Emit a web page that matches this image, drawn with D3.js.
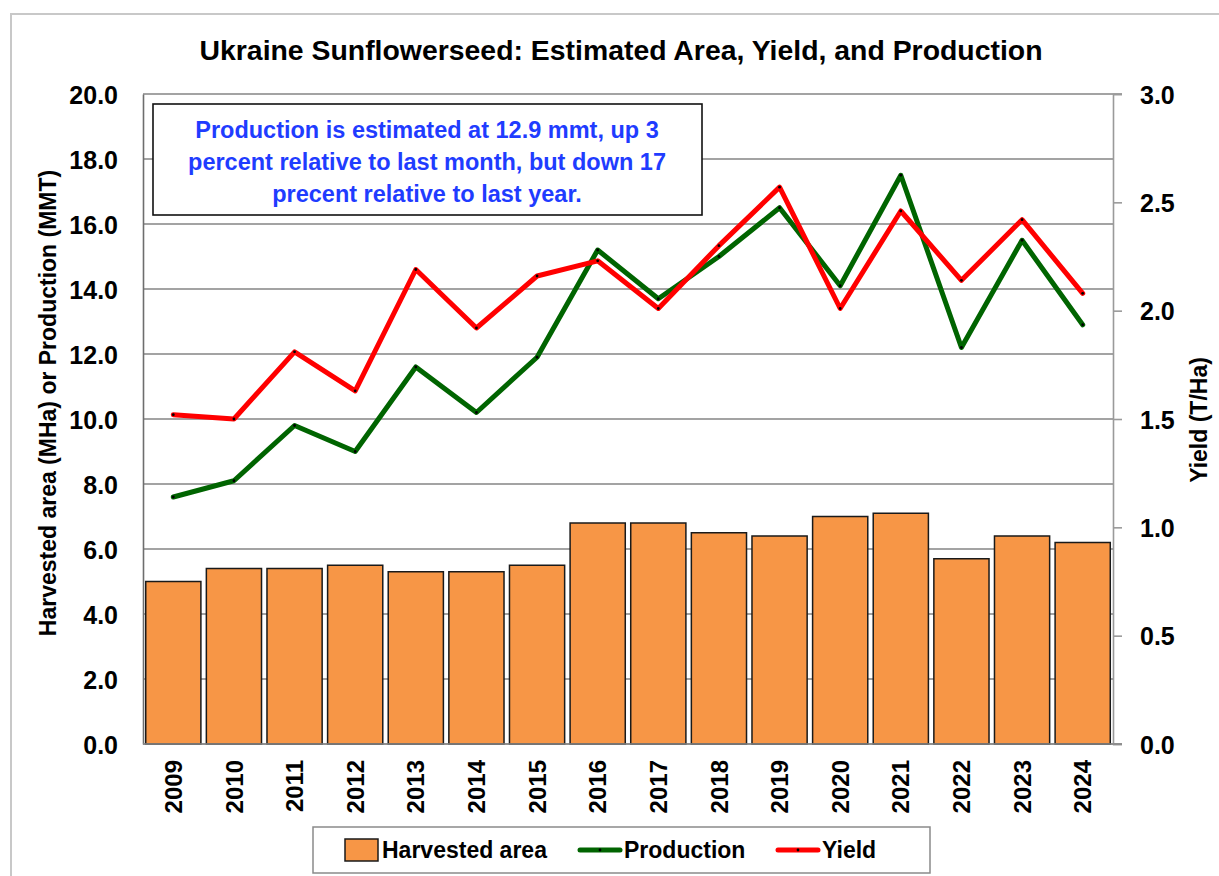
<!DOCTYPE html>
<html>
<head>
<meta charset="utf-8">
<script src="https://cdn.jsdelivr.net/npm/d3@7"></script>
<style>
  body { margin: 0; background: #fff; }
  svg text { font-family: "Liberation Sans", Arial, sans-serif; font-weight: bold; }
</style>
</head>
<body>
<div id="chart"></div>
<script>
// data
var years = ['2009','2010','2011','2012','2013','2014','2015','2016',
             '2017','2018','2019','2020','2021','2022','2023','2024'];
var area = [5.0, 5.4, 5.4, 5.5, 5.3, 5.3, 5.5, 6.8, 6.8, 6.5, 6.4, 7.0, 7.1, 5.7, 6.4, 6.2];
var production = [7.6, 8.1, 9.8, 9.0, 11.6, 10.2, 11.9, 15.2, 13.7, 15.0, 16.5, 14.1, 17.5, 12.2, 15.5, 12.9];
var yieldTHa = [1.52, 1.50, 1.81, 1.63, 2.19, 1.92, 2.16, 2.23, 2.01, 2.30, 2.57, 2.01, 2.46, 2.14, 2.42, 2.08];
var leftTicks = [0, 2, 4, 6, 8, 10, 12, 14, 16, 18, 20];
var rightTicks = [0, 0.5, 1.0, 1.5, 2.0, 2.5, 3.0];
var noteLines = ['Production is estimated at 12.9 mmt, up 3',
                 'percent relative to last month, but down 17',
                 'precent relative to last year.'];

var W = 1219, H = 876;
var plot = {left: 143, right: 1113, top: 94, bottom: 744};

var svg = d3.select('#chart')
    .append('svg')
    .attr('width', W)
    .attr('height', H)
    ;

// chart area border (cropped on right/bottom like the picture)
svg.append('rect')
    .attr('x', 11).attr('y', 14)
    .attr('width', W + 20).attr('height', H + 20)
    .attr('fill', 'white')
    .attr('stroke', '#c8c8c8')
    .attr('stroke-width', 2)
    ;

var x = d3.scaleBand()
    .domain(years)
    .range([plot.left, plot.right])
    .paddingInner(0.09)
    .paddingOuter(0.045)
    ;

var yL = d3.scaleLinear().domain([0, 20]).range([plot.bottom, plot.top]);
var yR = d3.scaleLinear().domain([0, 3]).range([plot.bottom, plot.top]);

// title
svg.append('text')
    .attr('x', 621).attr('y', 60)
    .attr('text-anchor', 'middle')
    .style('font-size', '28px')
    .attr('textLength', 843)
    .attr('lengthAdjust', 'spacingAndGlyphs')
    .text('Ukraine Sunflowerseed: Estimated Area, Yield, and Production')
    ;

// gridlines
svg.append('g')
    .selectAll('line')
    .data(leftTicks)
    .enter()
    .append('line')
    .attr('x1', plot.left)
    .attr('x2', function(d){ return (d === 0 || d === 20) ? plot.right + 9 : plot.right; })
    .attr('y1', function(d){ return yL(d); })
    .attr('y2', function(d){ return yL(d); })
    .attr('stroke', '#858585')
    .attr('stroke-width', 1.6)
    ;

// left axis
var gL = svg.append('g')
    .attr('transform', 'translate(' + plot.left + ',0)')
    .call(d3.axisLeft(yL).tickValues(leftTicks).tickSize(0).tickPadding(25).tickFormat(d3.format('.1f')))
    ;
gL.select('.domain').attr('stroke', '#6e6e6e').attr('stroke-width', 1.6);
gL.selectAll('text').style('font-size', '25px').attr('fill', '#000').attr('dy', '0.36em');

// right axis
var gR = svg.append('g')
    .attr('transform', 'translate(' + plot.right + ',0)')
    .call(d3.axisRight(yR).tickValues(rightTicks).tickSize(9).tickPadding(18).tickFormat(d3.format('.1f')))
    ;
gR.select('.domain').attr('stroke', '#9a9a9a').attr('stroke-width', 1.6);
gR.selectAll('line').attr('stroke', '#9a9a9a').attr('stroke-width', 1.6);
gR.selectAll('text').style('font-size', '25px').attr('fill', '#000').attr('dy', '0.36em');

// bars
svg.append('g')
    .selectAll('rect')
    .data(area)
    .enter()
    .append('rect')
    .attr('x', function(d,i){ return x(years[i]); })
    .attr('y', function(d){ return yL(d); })
    .attr('width', x.bandwidth())
    .attr('height', function(d){ return yL(0) - yL(d); })
    .attr('fill', '#f79646')
    .attr('stroke', '#1a1a1a')
    .attr('stroke-width', 1.5)
    ;

// redraw baseline over bars
svg.append('line')
    .attr('x1', plot.left).attr('x2', plot.right + 9)
    .attr('y1', yL(0)).attr('y2', yL(0))
    .attr('stroke', '#8a8a8a')
    .attr('stroke-width', 1.6)
    ;

// lines
function cx(i){ return x(years[i]) + x.bandwidth() / 2; }

var prodLine = d3.line()
    .x(function(d,i){ return cx(i); })
    .y(function(d){ return yL(d); });
var yieldLine = d3.line()
    .x(function(d,i){ return cx(i); })
    .y(function(d){ return yR(d); });

svg.append('path')
    .datum(production)
    .attr('d', prodLine)
    .attr('fill', 'none')
    .attr('stroke', '#006400')
    .attr('stroke-width', 5)
    .attr('stroke-linejoin', 'round')
    .attr('stroke-linecap', 'round')
    ;
svg.append('g')
    .selectAll('circle')
    .data(production)
    .enter()
    .append('circle')
    .attr('cx', function(d,i){ return cx(i); })
    .attr('cy', function(d){ return yL(d); })
    .attr('r', 1.4)
    .attr('fill', '#000')
    ;

svg.append('path')
    .datum(yieldTHa)
    .attr('d', yieldLine)
    .attr('fill', 'none')
    .attr('stroke', '#ff0000')
    .attr('stroke-width', 5)
    .attr('stroke-linejoin', 'round')
    .attr('stroke-linecap', 'round')
    ;
svg.append('g')
    .selectAll('circle')
    .data(yieldTHa)
    .enter()
    .append('circle')
    .attr('cx', function(d,i){ return cx(i); })
    .attr('cy', function(d){ return yR(d); })
    .attr('r', 1.4)
    .attr('fill', '#000')
    ;

// annotation box
svg.append('rect')
    .attr('x', 153).attr('y', 104)
    .attr('width', 549).attr('height', 111)
    .attr('fill', 'white')
    .attr('stroke', '#111')
    .attr('stroke-width', 1.6)
    ;
svg.append('g')
    .selectAll('text')
    .data(noteLines)
    .enter()
    .append('text')
    .attr('x', 427)
    .attr('y', function(d,i){ return 138 + i * 32; })
    .attr('text-anchor', 'middle')
    .attr('fill', '#1f3cff')
    .style('font-size', '23.5px')
    .text(function(d){ return d; })
    ;

// x labels
svg.append('g')
    .selectAll('text')
    .data(years)
    .enter()
    .append('text')
    .attr('transform', function(d){ return 'translate(' + (x(d) + x.bandwidth()/2) + ',760) rotate(-90)'; })
    .attr('text-anchor', 'end')
    .attr('dy', '0.36em')
    .style('font-size', '24px')
    .text(function(d){ return d; })
    ;

// axis titles
svg.append('text')
    .attr('transform', 'translate(48,' + 403 + ') rotate(-90)')
    .attr('text-anchor', 'middle')
    .attr('dy', '0.36em')
    .style('font-size', '23px')
    .text('Harvested area (MHa) or Production (MMT)')
    ;
svg.append('text')
    .attr('transform', 'translate(1199,' + 420 + ') rotate(-90)')
    .attr('text-anchor', 'middle')
    .attr('dy', '0.36em')
    .style('font-size', '23px')
    .text('Yield (T/Ha)')
    ;

// legend
var legendItems = ['Harvested area', 'Production', 'Yield'];
var legendColors = ['#f79646', '#006400', '#ff0000'];
var legendX = [345, 580, 778];

svg.append('rect')
    .attr('x', 313).attr('y', 827)
    .attr('width', 617).attr('height', 46)
    .attr('fill', 'white')
    .attr('stroke', '#8a8a8a')
    .attr('stroke-width', 1.5)
    ;

var lg = svg.append('g')
    .selectAll('g')
    .data(legendItems)
    .enter()
    .append('g')
    .attr('transform', function(d,i){ return 'translate(' + legendX[i] + ',850)'; })
    ;

lg.each(function(d,i){
    var g = d3.select(this);
    if (i === 0) {
        g.append('rect')
            .attr('x', 0).attr('y', -11)
            .attr('width', 33).attr('height', 22)
            .attr('fill', legendColors[i])
            .attr('stroke', '#1a1a1a')
            .attr('stroke-width', 1.5)
            ;
        g.append('text').attr('x', 37).attr('dy', '0.36em').style('font-size', '23px').text(d);
    } else {
        g.append('line')
            .attr('x1', 0).attr('x2', 40)
            .attr('stroke', legendColors[i])
            .attr('stroke-width', 5)
            .attr('stroke-linecap', 'round')
            ;
        g.append('circle').attr('cx', 20).attr('r', 1.4).attr('fill', '#000');
        g.append('text').attr('x', 44).attr('dy', '0.36em').style('font-size', '23px').text(d);
    }
});
</script>
</body>
</html>
